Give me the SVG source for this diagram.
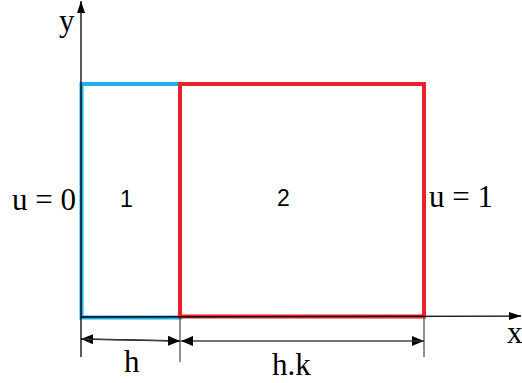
<svg xmlns="http://www.w3.org/2000/svg" width="522" height="383" viewBox="0 0 522 383">
<style>
.ax{stroke:#000;stroke-width:1.3;fill:none}
.dim{stroke:#444;stroke-width:1.2;fill:none}
.serif{font-family:"Liberation Serif","Times New Roman",serif;font-size:31px;fill:#000}
.sans{font-family:"Liberation Sans",Arial,sans-serif;font-size:23px;fill:#000}
</style>
<defs>
<marker id="ah" markerWidth="12" markerHeight="8" refX="12" refY="4" orient="auto" markerUnits="userSpaceOnUse">
<path d="M0,0 L12,4 L0,8 Z" fill="#000"/>
</marker>
<marker id="dh" markerWidth="12" markerHeight="10" refX="12" refY="5" orient="auto" markerUnits="userSpaceOnUse">
<path d="M0,0 L12,5 L0,10 Z" fill="#000"/>
</marker>
</defs>
<g id="region1">
<rect x="81.5" y="84" width="98.5" height="233.5" fill="none" stroke="#1ab0e8" stroke-width="4"/>
<text class="sans" x="120" y="207">1</text>
</g>
<g id="region2">
<rect x="180" y="84" width="244" height="232.5" fill="none" stroke="#e8212a" stroke-width="4"/>
<text class="sans" x="277" y="206">2</text>
</g>
<g id="connectors">
<line class="ax" x1="81" y1="318" x2="81" y2="1" marker-end="url(#ah)"/>
<line class="ax" x1="81" y1="317" x2="521" y2="316" marker-end="url(#ah)"/>
<line class="ax" x1="81" y1="318" x2="81" y2="357"/>
<line class="dim" x1="180" y1="318" x2="180" y2="362"/>
<line class="dim" x1="424" y1="318" x2="424" y2="357"/>
<line class="ax" x1="180" y1="341" x2="81" y2="339" marker-end="url(#dh)"/>
<line class="dim" x1="82" y1="339" x2="180" y2="341" marker-end="url(#dh)"/>
<line class="dim" x1="181" y1="341" x2="424" y2="341" marker-end="url(#dh)"/>
<line class="dim" x1="424" y1="341" x2="181" y2="341" marker-end="url(#dh)"/>
</g>
<g id="labels">
<text class="serif" x="59" y="31">y</text>
<text class="serif" x="507" y="343">x</text>
<text class="serif" x="12" y="210">u = 0</text>
<text class="serif" x="429" y="207">u = 1</text>
<text class="serif" x="124" y="372">h</text>
<text class="serif" x="272" y="375">h.k</text>
</g>
</svg>
